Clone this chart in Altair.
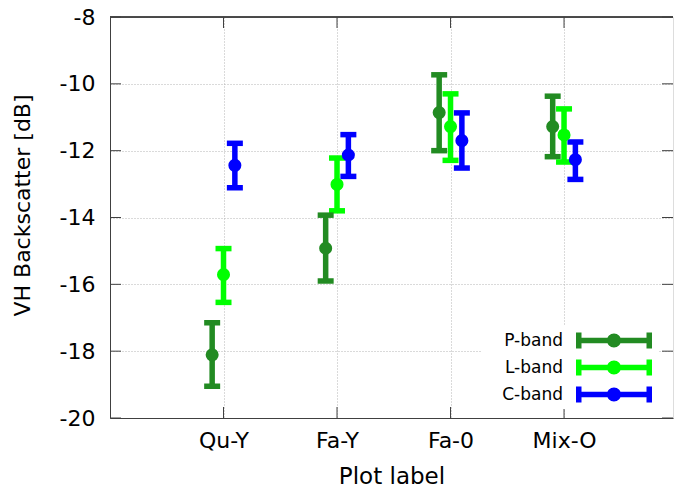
import altair as alt
import pandas as pd

categories = ["Qu-Y", "Fa-Y", "Fa-0", "Mix-O"]
bands = ["P-band", "L-band", "C-band"]
colors = ["#228B22", "#00FF00", "#0000FF"]

p_mean = [-18.11, -14.92, -10.86, -11.28]
p_low = [-19.05, -15.90, -12.00, -12.18]
p_high = [-17.15, -13.93, -9.73, -10.37]

l_mean = [-15.71, -13.01, -11.28, -11.53]
l_low = [-16.54, -13.80, -12.29, -12.34]
l_high = [-14.93, -12.22, -10.30, -10.75]

c_mean = [-12.44, -12.13, -11.70, -12.27]
c_low = [-13.11, -12.77, -12.52, -12.86]
c_high = [-11.78, -11.52, -10.87, -11.74]

y_ticks = [-20, -18, -16, -14, -12, -10, -8]

series = {
    "P-band": (p_mean, p_low, p_high),
    "L-band": (l_mean, l_low, l_high),
    "C-band": (c_mean, c_low, c_high),
}
rows = []
for b in bands:
    m, lo, hi = series[b]
    for i, c in enumerate(categories):
        rows.append({"cat": c, "idx": i + 1, "band": b, "order": bands.index(b),
                     "mean": m[i], "low": lo[i], "high": hi[i]})
df = pd.DataFrame(rows)

X_MAX = 4.96
W, H = 563, 401
xs = alt.Scale(domain=[0, X_MAX], nice=False, zero=False)
ys = alt.Scale(domain=[y_ticks[0], y_ticks[-1]], nice=False, zero=False)

label_arr = "[" + ",".join("'%s'" % c for c in categories) + "]"
grid_kw = dict(grid=True, gridColor="#b4b4b4", gridDash=[1, 2], gridWidth=1,
               ticks=False, domain=True, domainColor="#404040", domainWidth=1,
               labelColor="black", titleColor="black", titleFontWeight="normal")
x_axis = alt.Axis(values=list(range(1, len(categories) + 1)),
                  labelExpr=label_arr + "[datum.value - 1]",
                  labelFontSize=22, labelPadding=12, title="Plot label",
                  titleFontSize=23, titlePadding=14, **grid_kw)
y_axis = alt.Axis(values=y_ticks, labelExpr="'' + datum.value",
                  labelFontSize=22, labelPadding=15, title="VH Backscatter [dB]",
                  titleFontSize=22, titleAngle=-90, titleX=-88, titleY=188,
                  titleBaseline="middle", titleAlign="center", **grid_kw)

# legend symbol: horizontal error bar with dot, drawn to the right of the label
# (unit = 8.5 px for a symbol size of 17^2)
SYM = ("M9.353,-0.324H18.294V0.324H9.353Z "
       "M9.353,-0.941H10.0V0.941H9.353Z "
       "M17.647,-0.941H18.294V0.941H17.647Z "
       "M13.0,0A0.8235,0.8235 0 1,1 14.647,0A0.8235,0.8235 0 1,1 13.0,0Z")
legend = alt.Legend(title=None, orient="none", legendX=372, legendY=309,
                    symbolType=SYM, symbolSize=289, symbolStrokeWidth=0,
                    symbolOpacity=1, labelFontSize=17, labelAlign="right",
                    labelOffset=58, rowPadding=9, padding=6, fillColor="white",
                    labelColor="black")
cscale = alt.Scale(domain=bands, range=colors)
color_leg = alt.Color("band:N", scale=cscale, legend=legend, sort=bands)

offset_expr = "datum.idx + (datum.band == 'P-band' ? -0.1 : (datum.band == 'C-band' ? 0.1 : 0))"
base = alt.Chart(df).transform_calculate(xp=offset_expr)
X = alt.X("xp:Q", scale=xs, axis=x_axis)

bars = base.mark_rule(strokeWidth=5.5, opacity=1).encode(
    x=X, y=alt.Y("low:Q", scale=ys, axis=y_axis), y2="high:Q",
    color=color_leg, order="order:Q")
cap_lo = base.mark_tick(orient="horizontal", size=16, thickness=5.5, opacity=1).encode(
    x=X, y=alt.Y("low:Q", scale=ys, axis=y_axis), color=color_leg, order="order:Q")
cap_hi = base.mark_tick(orient="horizontal", size=16, thickness=5.5, opacity=1).encode(
    x=X, y=alt.Y("high:Q", scale=ys, axis=y_axis), color=color_leg, order="order:Q")
pts = base.mark_point(filled=True, size=170, opacity=1, strokeWidth=0).encode(
    x=X, y=alt.Y("mean:Q", scale=ys, axis=y_axis), color=color_leg, order="order:Q")

# inward ticks (bottom/top and left/right) and top border
TX = 11 * X_MAX / W
TY = 11 * (y_ticks[-1] - y_ticks[0]) / H
xt = pd.DataFrame({"v": list(range(1, len(categories) + 1))})
yt = pd.DataFrame({"v": y_ticks})
tick_style = dict(color="#404040", strokeWidth=1)
xt_bot = alt.Chart(xt).mark_rule(**tick_style).encode(
    x=alt.X("v:Q", scale=xs, axis=x_axis),
    y=alt.Y(datum=y_ticks[0], scale=ys, axis=y_axis), y2=alt.Y2(datum=y_ticks[0] + TY))
xt_top = alt.Chart(xt).mark_rule(**tick_style).encode(
    x=alt.X("v:Q", scale=xs, axis=x_axis),
    y=alt.Y(datum=y_ticks[-1], scale=ys, axis=y_axis), y2=alt.Y2(datum=y_ticks[-1] - TY))
yt_left = alt.Chart(yt).mark_rule(**tick_style).encode(
    y=alt.Y("v:Q", scale=ys, axis=y_axis),
    x=alt.X(datum=0, scale=xs, axis=x_axis), x2=alt.X2(datum=TX))
yt_right = alt.Chart(yt).mark_rule(**tick_style).encode(
    y=alt.Y("v:Q", scale=ys, axis=y_axis),
    x=alt.X(datum=X_MAX - TX, scale=xs, axis=x_axis), x2=alt.X2(datum=X_MAX))
top_border = alt.Chart(xt).mark_rule(**tick_style).encode(
    y=alt.Y(datum=y_ticks[-1], scale=ys, axis=y_axis),
    x=alt.value(0), x2=alt.value("width"))

chart = alt.layer(bars, cap_lo, cap_hi, pts, xt_bot, xt_top, yt_left, yt_right, top_border).properties(
    width=W, height=H,
    autosize=alt.AutoSizeParams(type="none"),
    padding={"left": 110, "top": 17, "right": 1, "bottom": 82},
).configure_view(stroke=None).configure(font="DejaVu Sans", background="white")

chart.save("out.html", embed_options={"renderer": "svg", "actions": False})
